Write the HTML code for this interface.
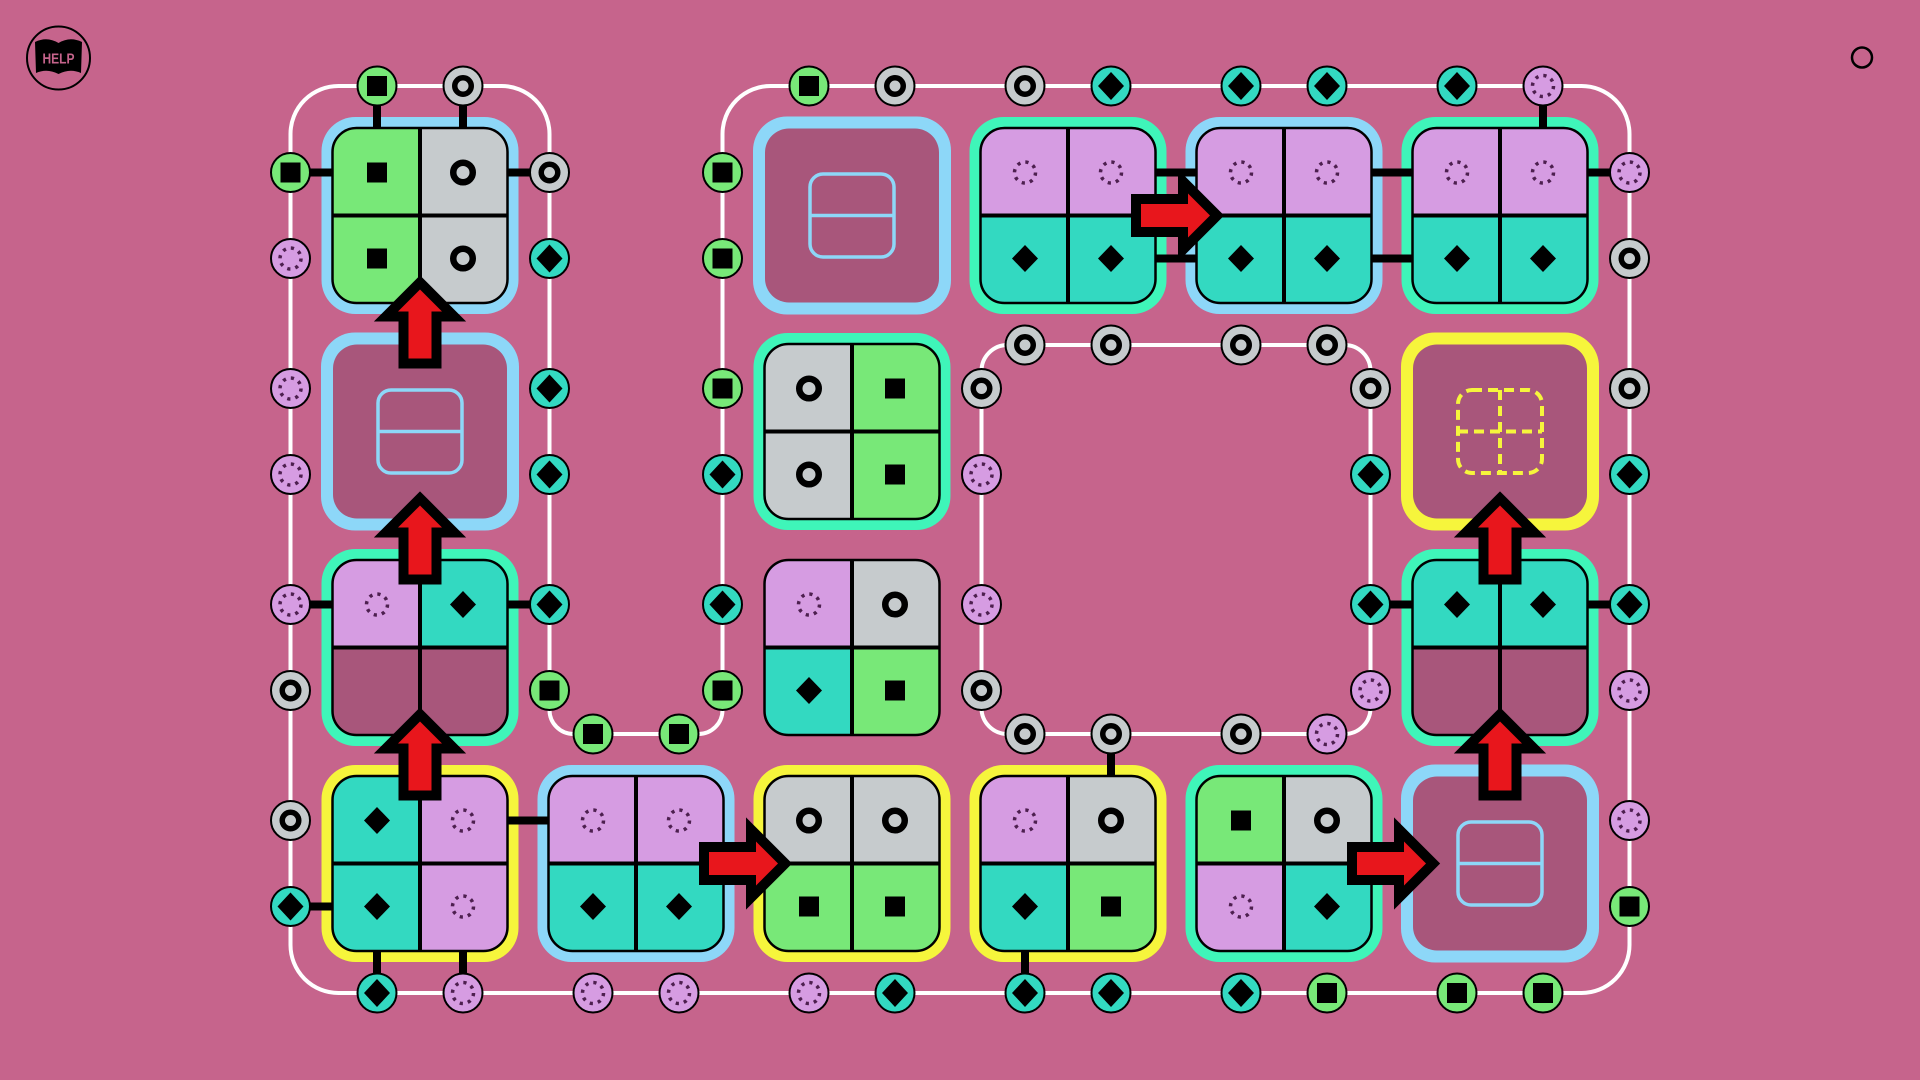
<!DOCTYPE html>
<html>
<head>
<meta charset="utf-8">
<style>
html,body{margin:0;padding:0;background:#c6648c;}
svg{display:block;}
.g{fill:#78e878}.c{fill:#c6cbcd}.p{fill:#d69ce2}.d{fill:#33d9c1}.m{fill:#a8567b}
.bb{fill:#8dd7f8}.bt{fill:#3ff5b9}.by{fill:#f6f53c}
.lk{stroke:#000;stroke-width:8;fill:none}
</style>
</head>
<body>
<svg width="1920" height="1080" viewBox="0 0 1920 1080" xmlns="http://www.w3.org/2000/svg">
<defs>
<clipPath id="tc"><rect x="-87.5" y="-87.5" width="175" height="175" rx="24"/></clipPath>
<g id="sG"><rect x="-10" y="-10" width="20" height="20" fill="#000"/></g>
<g id="sC"><circle r="9.75" fill="none" stroke="#000" stroke-width="6.5"/></g>
<g id="sD"><polygon points="0,-13.5 13,0 0,13.5 -13,0" fill="#000"/></g>
<g id="sP"><circle r="10.5" fill="none" stroke="#4d1f4f" stroke-width="3.5" stroke-dasharray="3.2 5.05"/></g>
<g id="pG"><circle r="19.5" fill="#78e878" stroke="#000" stroke-width="2"/><rect x="-10" y="-10" width="20" height="20" fill="#000"/></g>
<g id="pC"><circle r="19.5" fill="#c6cbcd" stroke="#000" stroke-width="2"/><circle r="8.25" fill="none" stroke="#000" stroke-width="5.5"/></g>
<g id="pD"><circle r="19.5" fill="#33d9c1" stroke="#000" stroke-width="2"/><polygon points="0,-14 13,0 0,14 -13,0" fill="#000"/></g>
<g id="pP"><circle r="19.5" fill="#d69ce2" stroke="#000" stroke-width="2"/><circle r="10.5" fill="none" stroke="#4d1f4f" stroke-width="3.5" stroke-dasharray="3.2 5.05"/></g>
<g id="qf"><rect x="-87.5" y="-87.5" width="175" height="175" rx="24" fill="none" stroke="#000" stroke-width="2.5"/><path d="M0 -87.5V87.5M-87.5 0H87.5" stroke="#000" stroke-width="4"/></g>
<g id="arr"><polygon points="0,-34 22,-12 11.5,-12 11.5,35 -11.5,35 -11.5,-12 -22,-12" fill="#e8161c" stroke="#000" stroke-width="20" stroke-linejoin="miter" stroke-miterlimit="6" paint-order="stroke"/></g>
<g id="split"><rect x="-87" y="-87" width="174" height="174" rx="24" fill="#a8567b"/><rect x="-42" y="-41.5" width="84" height="83" rx="13" fill="none" stroke="#8dd7f8" stroke-width="3.5"/><path d="M-42 0H42" stroke="#8dd7f8" stroke-width="3.5"/></g>
</defs>

<rect width="1920" height="1080" fill="#c6648c"/>

<!-- white loops -->
<path d="M338.5 86H501.5A48 48 0 0 1 549.5 134V710A24 24 0 0 0 573.5 734H698.5A24 24 0 0 0 722.5 710V134A48 48 0 0 1 770.5 86H1581.5A48 48 0 0 1 1629.5 134V945A48 48 0 0 1 1581.5 993H338.5A48 48 0 0 1 290.5 945V134A48 48 0 0 1 338.5 86Z" fill="none" stroke="#fff" stroke-width="4"/>
<rect x="981.5" y="345" width="389" height="389" rx="26" fill="none" stroke="#fff" stroke-width="4"/>

<!-- tiles -->
<!-- (0,0) -->
<g transform="translate(420,215.5)">
<rect x="-98.5" y="-98.5" width="197" height="197" rx="34" class="bb"/>
<g clip-path="url(#tc)"><rect x="-87.5" y="-87.5" width="87.5" height="87.5" class="g"/><rect x="0" y="-87.5" width="87.5" height="87.5" class="c"/><rect x="-87.5" y="0" width="87.5" height="87.5" class="g"/><rect x="0" y="0" width="87.5" height="87.5" class="c"/></g>
<use href="#qf"/><use href="#sG" x="-43" y="-43"/><use href="#sC" x="43" y="-43"/><use href="#sG" x="-43" y="43"/><use href="#sC" x="43" y="43"/>
</g>
<!-- (2,0) empty -->
<g transform="translate(852,215.5)"><rect x="-99" y="-99" width="198" height="198" rx="34" class="bb"/><use href="#split"/></g>
<!-- (3,0) -->
<g transform="translate(1068,215.5)">
<rect x="-98.5" y="-98.5" width="197" height="197" rx="34" class="bt"/>
<g clip-path="url(#tc)"><rect x="-87.5" y="-87.5" width="87.5" height="87.5" class="p"/><rect x="0" y="-87.5" width="87.5" height="87.5" class="p"/><rect x="-87.5" y="0" width="87.5" height="87.5" class="d"/><rect x="0" y="0" width="87.5" height="87.5" class="d"/></g>
<use href="#qf"/><use href="#sP" x="-43" y="-43"/><use href="#sP" x="43" y="-43"/><use href="#sD" x="-43" y="43"/><use href="#sD" x="43" y="43"/>
</g>
<!-- (4,0) -->
<g transform="translate(1284,215.5)">
<rect x="-98.5" y="-98.5" width="197" height="197" rx="34" class="bb"/>
<g clip-path="url(#tc)"><rect x="-87.5" y="-87.5" width="87.5" height="87.5" class="p"/><rect x="0" y="-87.5" width="87.5" height="87.5" class="p"/><rect x="-87.5" y="0" width="87.5" height="87.5" class="d"/><rect x="0" y="0" width="87.5" height="87.5" class="d"/></g>
<use href="#qf"/><use href="#sP" x="-43" y="-43"/><use href="#sP" x="43" y="-43"/><use href="#sD" x="-43" y="43"/><use href="#sD" x="43" y="43"/>
</g>
<!-- (5,0) -->
<g transform="translate(1500,215.5)">
<rect x="-98.5" y="-98.5" width="197" height="197" rx="34" class="bt"/>
<g clip-path="url(#tc)"><rect x="-87.5" y="-87.5" width="87.5" height="87.5" class="p"/><rect x="0" y="-87.5" width="87.5" height="87.5" class="p"/><rect x="-87.5" y="0" width="87.5" height="87.5" class="d"/><rect x="0" y="0" width="87.5" height="87.5" class="d"/></g>
<use href="#qf"/><use href="#sP" x="-43" y="-43"/><use href="#sP" x="43" y="-43"/><use href="#sD" x="-43" y="43"/><use href="#sD" x="43" y="43"/>
</g>
<!-- (0,1) empty -->
<g transform="translate(420,431.5)"><rect x="-99" y="-99" width="198" height="198" rx="34" class="bb"/><use href="#split"/></g>
<!-- (2,1) -->
<g transform="translate(852,431.5)">
<rect x="-98.5" y="-98.5" width="197" height="197" rx="34" class="bt"/>
<g clip-path="url(#tc)"><rect x="-87.5" y="-87.5" width="87.5" height="87.5" class="c"/><rect x="0" y="-87.5" width="87.5" height="87.5" class="g"/><rect x="-87.5" y="0" width="87.5" height="87.5" class="c"/><rect x="0" y="0" width="87.5" height="87.5" class="g"/></g>
<use href="#qf"/><use href="#sC" x="-43" y="-43"/><use href="#sG" x="43" y="-43"/><use href="#sC" x="-43" y="43"/><use href="#sG" x="43" y="43"/>
</g>
<!-- (5,1) yellow empty dashed -->
<g transform="translate(1500,431.5)">
<rect x="-99" y="-99" width="198" height="198" rx="34" class="by"/>
<rect x="-87" y="-87" width="174" height="174" rx="24" fill="#a8567b"/>
<g fill="none" stroke="#f6f53c" stroke-width="4" stroke-dasharray="10 6"><rect x="-42" y="-41.5" width="84" height="83" rx="14"/><path d="M0 -41.5V41.5M-42 0H42"/></g>
</g>
<!-- (0,2) -->
<g transform="translate(420,647.5)">
<rect x="-98.5" y="-98.5" width="197" height="197" rx="34" class="bt"/>
<g clip-path="url(#tc)"><rect x="-87.5" y="-87.5" width="87.5" height="87.5" class="p"/><rect x="0" y="-87.5" width="87.5" height="87.5" class="d"/><rect x="-87.5" y="0" width="87.5" height="87.5" class="m"/><rect x="0" y="0" width="87.5" height="87.5" class="m"/></g>
<use href="#qf"/><use href="#sP" x="-43" y="-43"/><use href="#sD" x="43" y="-43"/>
</g>
<!-- (2,2) no border -->
<g transform="translate(852,647.5)">
<g clip-path="url(#tc)"><rect x="-87.5" y="-87.5" width="87.5" height="87.5" class="p"/><rect x="0" y="-87.5" width="87.5" height="87.5" class="c"/><rect x="-87.5" y="0" width="87.5" height="87.5" class="d"/><rect x="0" y="0" width="87.5" height="87.5" class="g"/></g>
<use href="#qf"/><use href="#sP" x="-43" y="-43"/><use href="#sC" x="43" y="-43"/><use href="#sD" x="-43" y="43"/><use href="#sG" x="43" y="43"/>
</g>
<!-- (5,2) -->
<g transform="translate(1500,647.5)">
<rect x="-98.5" y="-98.5" width="197" height="197" rx="34" class="bt"/>
<g clip-path="url(#tc)"><rect x="-87.5" y="-87.5" width="87.5" height="87.5" class="d"/><rect x="0" y="-87.5" width="87.5" height="87.5" class="d"/><rect x="-87.5" y="0" width="87.5" height="87.5" class="m"/><rect x="0" y="0" width="87.5" height="87.5" class="m"/></g>
<use href="#qf"/><use href="#sD" x="-43" y="-43"/><use href="#sD" x="43" y="-43"/>
</g>
<!-- (0,3) -->
<g transform="translate(420,863.5)">
<rect x="-98.5" y="-98.5" width="197" height="197" rx="34" class="by"/>
<g clip-path="url(#tc)"><rect x="-87.5" y="-87.5" width="87.5" height="87.5" class="d"/><rect x="0" y="-87.5" width="87.5" height="87.5" class="p"/><rect x="-87.5" y="0" width="87.5" height="87.5" class="d"/><rect x="0" y="0" width="87.5" height="87.5" class="p"/></g>
<use href="#qf"/><use href="#sD" x="-43" y="-43"/><use href="#sP" x="43" y="-43"/><use href="#sD" x="-43" y="43"/><use href="#sP" x="43" y="43"/>
</g>
<!-- (1,3) -->
<g transform="translate(636,863.5)">
<rect x="-98.5" y="-98.5" width="197" height="197" rx="34" class="bb"/>
<g clip-path="url(#tc)"><rect x="-87.5" y="-87.5" width="87.5" height="87.5" class="p"/><rect x="0" y="-87.5" width="87.5" height="87.5" class="p"/><rect x="-87.5" y="0" width="87.5" height="87.5" class="d"/><rect x="0" y="0" width="87.5" height="87.5" class="d"/></g>
<use href="#qf"/><use href="#sP" x="-43" y="-43"/><use href="#sP" x="43" y="-43"/><use href="#sD" x="-43" y="43"/><use href="#sD" x="43" y="43"/>
</g>
<!-- (2,3) -->
<g transform="translate(852,863.5)">
<rect x="-98.5" y="-98.5" width="197" height="197" rx="34" class="by"/>
<g clip-path="url(#tc)"><rect x="-87.5" y="-87.5" width="87.5" height="87.5" class="c"/><rect x="0" y="-87.5" width="87.5" height="87.5" class="c"/><rect x="-87.5" y="0" width="87.5" height="87.5" class="g"/><rect x="0" y="0" width="87.5" height="87.5" class="g"/></g>
<use href="#qf"/><use href="#sC" x="-43" y="-43"/><use href="#sC" x="43" y="-43"/><use href="#sG" x="-43" y="43"/><use href="#sG" x="43" y="43"/>
</g>
<!-- (3,3) -->
<g transform="translate(1068,863.5)">
<rect x="-98.5" y="-98.5" width="197" height="197" rx="34" class="by"/>
<g clip-path="url(#tc)"><rect x="-87.5" y="-87.5" width="87.5" height="87.5" class="p"/><rect x="0" y="-87.5" width="87.5" height="87.5" class="c"/><rect x="-87.5" y="0" width="87.5" height="87.5" class="d"/><rect x="0" y="0" width="87.5" height="87.5" class="g"/></g>
<use href="#qf"/><use href="#sP" x="-43" y="-43"/><use href="#sC" x="43" y="-43"/><use href="#sD" x="-43" y="43"/><use href="#sG" x="43" y="43"/>
</g>
<!-- (4,3) -->
<g transform="translate(1284,863.5)">
<rect x="-98.5" y="-98.5" width="197" height="197" rx="34" class="bt"/>
<g clip-path="url(#tc)"><rect x="-87.5" y="-87.5" width="87.5" height="87.5" class="g"/><rect x="0" y="-87.5" width="87.5" height="87.5" class="c"/><rect x="-87.5" y="0" width="87.5" height="87.5" class="p"/><rect x="0" y="0" width="87.5" height="87.5" class="d"/></g>
<use href="#qf"/><use href="#sG" x="-43" y="-43"/><use href="#sC" x="43" y="-43"/><use href="#sP" x="-43" y="43"/><use href="#sD" x="43" y="43"/>
</g>
<!-- (5,3) empty -->
<g transform="translate(1500,863.5)"><rect x="-99" y="-99" width="198" height="198" rx="34" class="bb"/><use href="#split"/></g>

<!-- stubs & connectors -->
<path class="lk" d="
M377 86V128 M463 86V128
M290.5 172.5H333 M507 172.5H549.5
M1543 86V128 M1587 172.5H1629.5
M290.5 604.5H333 M507 604.5H549.5
M1370.5 604.5H1413 M1587 604.5H1629.5
M290.5 906.5H333 M377 951V993 M463 951V993
M1111 734V776 M1025 951V993
M507 820.5H549
M1155 172.5H1197 M1155 258.5H1197
M1371 172.5H1413 M1371 258.5H1413"/>

<!-- ports: top -->
<use href="#pG" x="377" y="86"/><use href="#pC" x="463" y="86"/>
<use href="#pG" x="809" y="86"/><use href="#pC" x="895" y="86"/>
<use href="#pC" x="1025" y="86"/><use href="#pD" x="1111" y="86"/>
<use href="#pD" x="1241" y="86"/><use href="#pD" x="1327" y="86"/>
<use href="#pD" x="1457" y="86"/><use href="#pP" x="1543" y="86"/>
<!-- left outer -->
<use href="#pG" x="290.5" y="172.5"/><use href="#pP" x="290.5" y="258.5"/>
<use href="#pP" x="290.5" y="388.5"/><use href="#pP" x="290.5" y="474.5"/>
<use href="#pP" x="290.5" y="604.5"/><use href="#pC" x="290.5" y="690.5"/>
<use href="#pC" x="290.5" y="820.5"/><use href="#pD" x="290.5" y="906.5"/>
<!-- x=549.5 -->
<use href="#pC" x="549.5" y="172.5"/><use href="#pD" x="549.5" y="258.5"/>
<use href="#pD" x="549.5" y="388.5"/><use href="#pD" x="549.5" y="474.5"/>
<use href="#pD" x="549.5" y="604.5"/><use href="#pG" x="549.5" y="690.5"/>
<!-- notch bottom -->
<use href="#pG" x="593" y="734"/><use href="#pG" x="679" y="734"/>
<!-- x=722.5 -->
<use href="#pG" x="722.5" y="172.5"/><use href="#pG" x="722.5" y="258.5"/>
<use href="#pG" x="722.5" y="388.5"/><use href="#pD" x="722.5" y="474.5"/>
<use href="#pD" x="722.5" y="604.5"/><use href="#pG" x="722.5" y="690.5"/>
<!-- right outer -->
<use href="#pP" x="1629.5" y="172.5"/><use href="#pC" x="1629.5" y="258.5"/>
<use href="#pC" x="1629.5" y="388.5"/><use href="#pD" x="1629.5" y="474.5"/>
<use href="#pD" x="1629.5" y="604.5"/><use href="#pP" x="1629.5" y="690.5"/>
<use href="#pP" x="1629.5" y="820.5"/><use href="#pG" x="1629.5" y="906.5"/>
<!-- bottom -->
<use href="#pD" x="377" y="993"/><use href="#pP" x="463" y="993"/>
<use href="#pP" x="593" y="993"/><use href="#pP" x="679" y="993"/>
<use href="#pP" x="809" y="993"/><use href="#pD" x="895" y="993"/>
<use href="#pD" x="1025" y="993"/><use href="#pD" x="1111" y="993"/>
<use href="#pD" x="1241" y="993"/><use href="#pG" x="1327" y="993"/>
<use href="#pG" x="1457" y="993"/><use href="#pG" x="1543" y="993"/>
<!-- inner loop -->
<use href="#pC" x="1025" y="345"/><use href="#pC" x="1111" y="345"/>
<use href="#pC" x="1241" y="345"/><use href="#pC" x="1327" y="345"/>
<use href="#pC" x="981.5" y="388.5"/><use href="#pP" x="981.5" y="474.5"/>
<use href="#pP" x="981.5" y="604.5"/><use href="#pC" x="981.5" y="690.5"/>
<use href="#pC" x="1370.5" y="388.5"/><use href="#pD" x="1370.5" y="474.5"/>
<use href="#pD" x="1370.5" y="604.5"/><use href="#pP" x="1370.5" y="690.5"/>
<use href="#pC" x="1025" y="734"/><use href="#pC" x="1111" y="734"/>
<use href="#pC" x="1241" y="734"/><use href="#pP" x="1327" y="734"/>

<!-- arrows -->
<use href="#arr" transform="translate(420,323.5)"/>
<use href="#arr" transform="translate(420,539.5)"/>
<use href="#arr" transform="translate(420,755.5)"/>
<use href="#arr" transform="translate(1500,539.5)"/>
<use href="#arr" transform="translate(1500,755.5)"/>
<use href="#arr" transform="translate(1176,215.5) rotate(90)"/>
<use href="#arr" transform="translate(744,863.5) rotate(90)"/>
<use href="#arr" transform="translate(1392,863.5) rotate(90)"/>

<!-- help icon -->
<circle cx="58.5" cy="58" r="31.5" fill="none" stroke="#000" stroke-width="2"/>
<path d="M35 42Q47 36 58.5 43Q70 36 82 42L81 73Q70 68 58.5 74Q47 68 36 73Z" fill="#000"/>
<text x="58.5" y="63.5" text-anchor="middle" font-family="Liberation Sans, sans-serif" font-weight="bold" font-size="15" fill="#c6648c" textLength="32" lengthAdjust="spacingAndGlyphs">HELP</text>

<!-- top-right circle -->
<circle cx="1862" cy="57.5" r="10" fill="none" stroke="#000" stroke-width="2.5"/>
</svg>
</body>
</html>
